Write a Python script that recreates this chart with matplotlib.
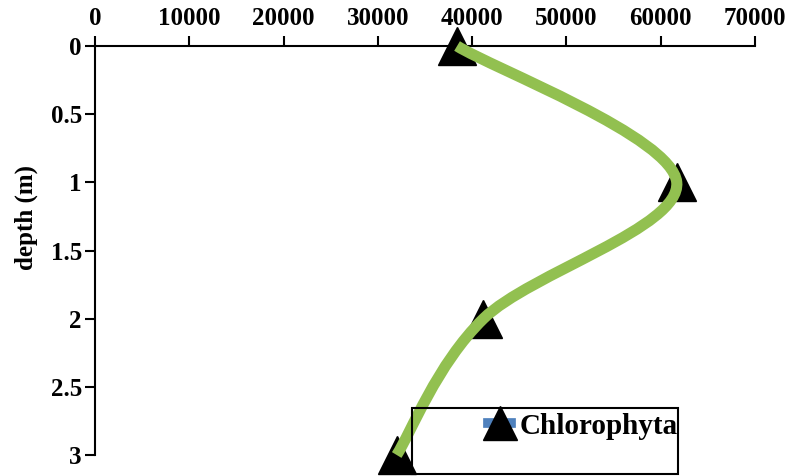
import matplotlib
matplotlib.use('Agg')
from matplotlib import pyplot as plt
from matplotlib.path import Path
from matplotlib.patches import PathPatch, Rectangle
from matplotlib.lines import Line2D
import numpy as np

# Chlorophyta density vs depth
depth = [0, 1, 2, 3]
chlorophyta = [38400, 61700, 41200, 32000]

xticks = [0, 10000, 20000, 30000, 40000, 50000, 60000, 70000]
yticks = [0, 0.5, 1, 1.5, 2, 2.5, 3]
ytick_labels = ['0', '0.5', '1', '1.5', '2', '2.5', '3']

green = '#92c050'
blue = '#4f81bd'

plt.rcParams['font.family'] = ['Liberation Serif', 'DejaVu Serif']
plt.rcParams['font.weight'] = 'bold'


def smooth_path(xs, ys):
    # excel-like smoothed line: catmull-rom segments as cubic beziers
    pts = np.column_stack([xs, ys]).astype(float)
    n = len(pts)
    verts = [pts[0]]
    codes = [Path.MOVETO]
    for i in range(n - 1):
        p0 = pts[max(i - 1, 0)]
        p1 = pts[i]
        p2 = pts[i + 1]
        p3 = pts[min(i + 2, n - 1)]
        c1 = p1 + (p2 - p0) / 6.0
        c2 = p2 - (p3 - p1) / 6.0
        verts += [c1, c2, p2]
        codes += [Path.CURVE4] * 3
    return Path(verts, codes)


fig = plt.figure(figsize=(8.1, 4.76), dpi=100)
ax = fig.add_axes([95 / 810, 1 - 455 / 476, 660 / 810, 409 / 476])

ax.plot(chlorophyta, depth, linestyle='none', marker='^', markersize=27,
        color='black', zorder=3, clip_on=False)
ax.add_patch(PathPatch(smooth_path(chlorophyta, depth), facecolor='none',
                       edgecolor=green, lw=8, capstyle='butt', zorder=4,
                       clip_on=False))

ax.set_xlim(0, 70000)
ax.set_ylim(3, 0)
ax.set_xticks(xticks)
ax.set_yticks(yticks)
ax.set_yticklabels(ytick_labels)
ax.xaxis.tick_top()
ax.spines['bottom'].set_visible(False)
ax.spines['right'].set_visible(False)
for s in ['top', 'left']:
    ax.spines[s].set_linewidth(1.5)
ax.tick_params(axis='both', direction='out', length=7.5, width=1.5,
               labelsize=18)
ax.tick_params(axis='x', pad=4)
ax.tick_params(axis='y', pad=2)
ax.set_ylabel('depth (m)', fontsize=18, fontweight='bold')
ax.yaxis.set_label_coords(-0.086, 0.58)

# legend: blue series swatch behind the black triangle marker
handle = (Line2D([], [], linestyle='-', lw=7, color=blue),
          Line2D([], [], linestyle='none', marker='^', markersize=25, color='black'))
fig.legend([handle], ['Chlorophyta'], loc='center left',
           bbox_to_anchor=(488 / 810, 1 - 426 / 476), bbox_transform=fig.transFigure,
           frameon=False, fontsize=21, borderpad=0, borderaxespad=0,
           handlelength=0.8, handletextpad=0.3)
fig.add_artist(Rectangle((412 / 810, 1 - 474 / 476), 266 / 810, 66 / 476,
                         transform=fig.transFigure, fill=False,
                         edgecolor='black', lw=1.5))

fig.savefig('out.png', dpi=100)
